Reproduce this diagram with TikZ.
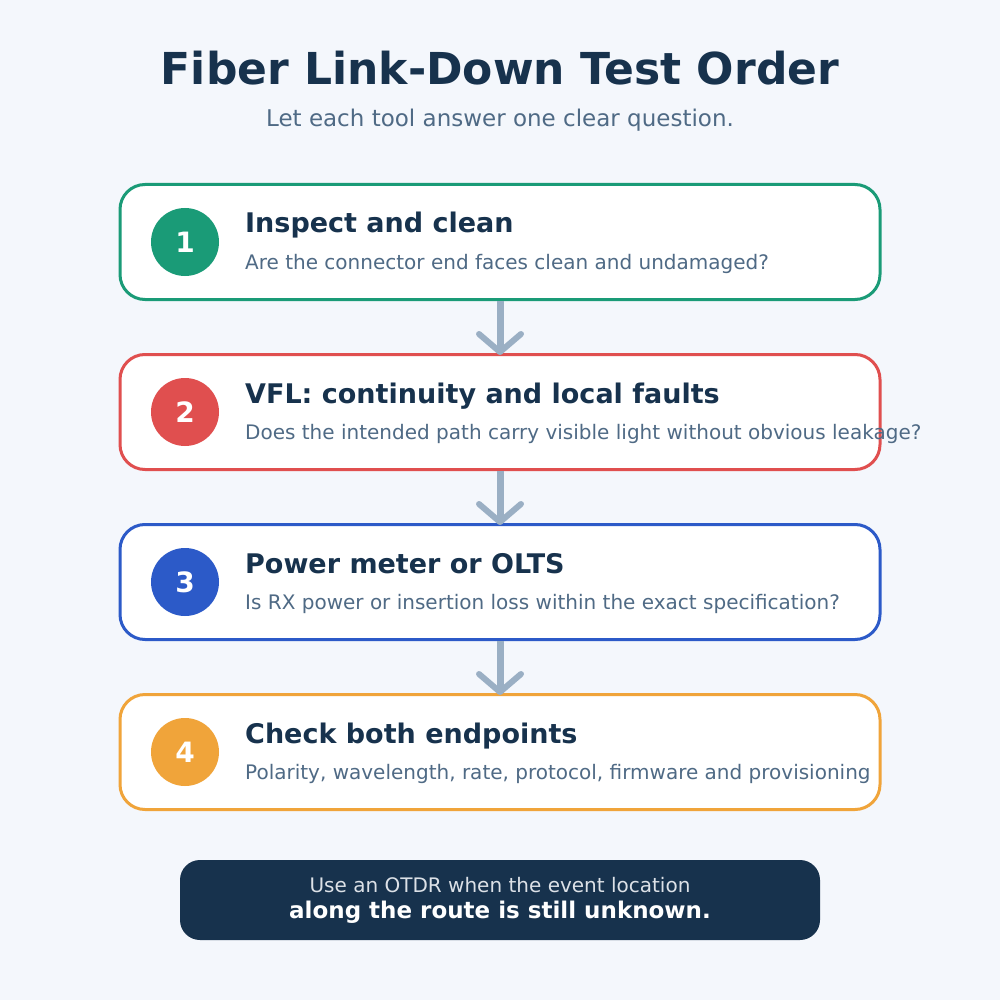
\documentclass[tikz,border=0pt]{standalone}
\usepackage{fontspec}
\setmainfont{DejaVu Sans}
\usetikzlibrary{arrows.meta}
\definecolor{bg}{HTML}{F4F7FC}
\definecolor{navy}{HTML}{17324D}
\definecolor{slate}{HTML}{4F6A85}
\definecolor{cA}{HTML}{1A9B77}
\definecolor{cB}{HTML}{E04F4F}
\definecolor{cC}{HTML}{2C5AC8}
\definecolor{cD}{HTML}{F0A43A}
\definecolor{arr}{HTML}{9AAFC4}
\begin{document}
\begin{tikzpicture}[x=1pt,y=-1pt,
  step/.style={draw=#1,line width=3pt,fill=white,rounded corners=25pt,minimum width=760pt,minimum height=115pt,inner sep=0pt},
  num/.style={circle,fill=#1,minimum size=68pt,inner sep=0pt,text=white,font=\fontsize{28}{32}\selectfont\bfseries},
  head/.style={anchor=base west,text=navy,font=\fontsize{27}{32}\selectfont\bfseries,inner sep=0pt},
  sub/.style={anchor=base west,text=slate,font=\fontsize{20}{24}\selectfont,inner sep=0pt},
  conn/.style={draw=arr,line width=7pt,-{Straight Barb[length=18pt,width=42pt,line width=6pt,round]}}]
\fill[bg] (0,0) rectangle (1000,1000);
\useasboundingbox (0,0) rectangle (1000,1000);
\node[text=navy,font=\fontsize{44}{50}\selectfont\bfseries] (title) at (500,68) {Fiber Link-Down Test Order};
\node[text=slate,font=\fontsize{23}{27}\selectfont] (subtitle) at (500,120) {Let each tool answer one clear question.};
\foreach \i/\c/\y/\h/\s in {1/cA/242/Inspect and clean/Are the connector end faces clean and undamaged?,
 2/cB/412/VFL: continuity and local faults/Does the intended path carry visible light without obvious leakage?,
 3/cC/582/Power meter or OLTS/Is RX power or insertion loss within the exact specification?,
 4/cD/752/Check both endpoints/{Polarity, wavelength, rate, protocol, firmware and provisioning}}{
  \node[step=\c] (b\i) at (500,\y) {};
  \node[num=\c] (n\i) at (185,\y) {\i};
  \node[head] (h\i) at (245,\y-9) {\h};
  \node[sub] (s\i) at (245,\y+27) {\s};
}
\draw[conn] (b1.south) -- ([yshift=-2pt]b2.north);
\draw[conn] (b2.south) -- ([yshift=-2pt]b3.north);
\draw[conn] (b3.south) -- ([yshift=-2pt]b4.north);
\node[fill=navy,rounded corners=20pt,minimum width=640pt,minimum height=80pt] (foot) at (500,900) {};
\node[text=white!80!slate,font=\fontsize{20}{24}\selectfont] (f1) at (500,885) {Use an OTDR when the event location};
\node[text=white,font=\fontsize{23}{27}\selectfont\bfseries] (f2) at (500,912) {along the route is still unknown.};
\end{tikzpicture}
\end{document}
